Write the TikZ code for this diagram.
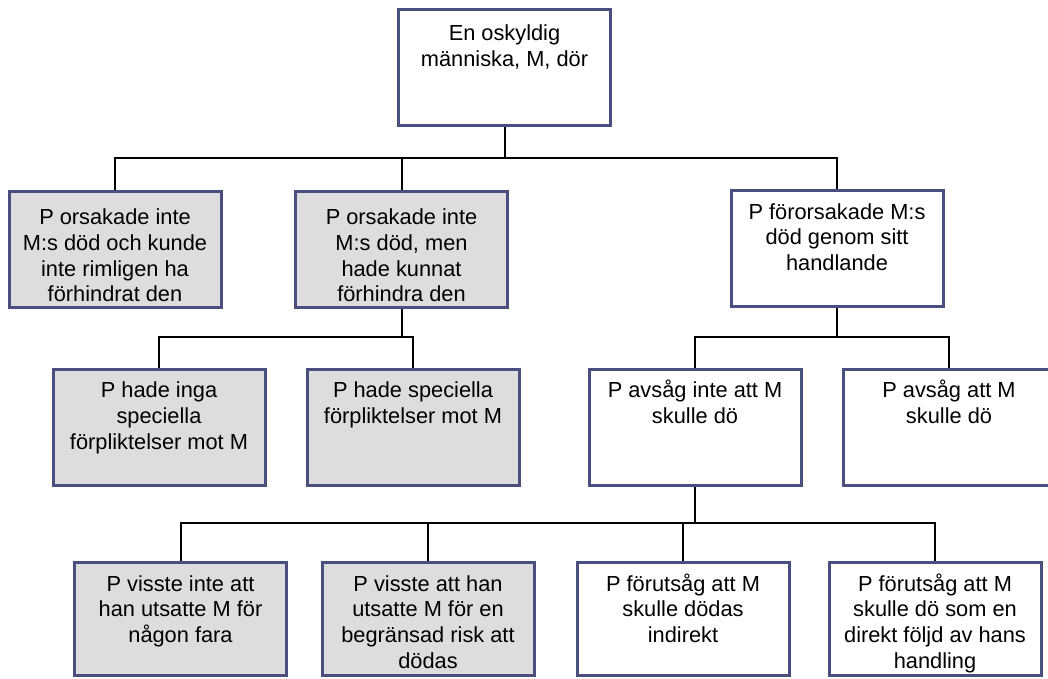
\documentclass[tikz,border=0pt]{standalone}
\usepackage{fontspec}
\setmainfont{Liberation Sans}
\definecolor{bord}{RGB}{74,79,128}
\definecolor{grayfill}{RGB}{221,221,221}
\newcommand\bxtext[3]{\parbox[c][#1][t]{200pt}{\centering\fontsize{21.8pt}{25.8pt}\selectfont\rule{0pt}{#2}#3}}
\tikzset{
  box/.style={draw=bord, line width=3pt, inner sep=0pt, minimum width=212pt, minimum height=116pt},
  rowthree/.style={minimum height=113pt},
  gbox/.style={box, fill=grayfill},
  wbox/.style={box, fill=white},
  conn/.style={draw=black, line width=2pt}
}
\begin{document}
\begin{tikzpicture}[x=1pt,y=-1pt]
\useasboundingbox (0,0) rectangle (1048,679);
\clip (0,0) rectangle (1048,679);
% level 0
\node[wbox] (B0) at (504.5,68) {\bxtext{116pt}{30.5pt}{En oskyldig\\människa, M, dör}};
% level 1
\node[gbox] (B1) at (115,249) {\bxtext{116pt}{33.5pt}{P orsakade inte\\M:s död och kunde\\inte rimligen ha\\förhindrat den}};
\node[gbox] (B2) at (401.5,249) {\bxtext{116pt}{33.5pt}{P orsakade inte\\M:s död, men\\hade kunnat\\förhindra den}};
\node[wbox] (B3) at (837,248.5) {\bxtext{116pt}{28.5pt}{P förorsakade M:s\\död genom sitt\\handlande}};
% level 2
\node[gbox] (B4) at (159,427.5) {\bxtext{116pt}{28pt}{P hade inga\\speciella\\förpliktelser mot M}};
\node[gbox] (B5) at (413,427.5) {\bxtext{116pt}{28pt}{P hade speciella\\förpliktelser mot M}};
\node[wbox] (B6) at (695,427.5) {\bxtext{116pt}{28pt}{P avsåg inte att M\\skulle dö}};
\node[wbox] (B7) at (949,427.5) {\bxtext{116pt}{28pt}{P avsåg att M\\skulle dö}};
% level 3
\node[gbox,rowthree] (B8) at (180.5,619) {\bxtext{113pt}{28.5pt}{P visste inte att\\han utsatte M för\\någon fara}};
\node[gbox,rowthree] (B9) at (428,619) {\bxtext{113pt}{28.5pt}{P visste att han\\utsatte M för en\\begränsad risk att\\dödas}};
\node[wbox,rowthree] (B10) at (683,619) {\bxtext{113pt}{28.5pt}{P förutsåg att M\\skulle dödas\\indirekt}};
\node[wbox,rowthree] (B11) at (935,619) {\bxtext{113pt}{28.5pt}{P förutsåg att M\\skulle dö som en\\direkt följd av hans\\handling}};
% junctions
\coordinate (J0) at (504.5,158);
\coordinate (J1) at (401.5,337);
\coordinate (J2) at (837,337);
\coordinate (J3) at (695,523);
% connectors
\draw[conn] (B0.south) -- (J0);
\draw[conn] (J0) -| (B1.north);
\draw[conn] (J0) -| (B2.north);
\draw[conn] (J0) -| (B3.north);
\draw[conn] (B2.south) -- (J1);
\draw[conn] (J1) -| (B4.north);
\draw[conn] (J1) -| (B5.north);
\draw[conn] (B3.south) -- (J2);
\draw[conn] (J2) -| (B6.north);
\draw[conn] (J2) -| (B7.north);
\draw[conn] (B6.south) -- (J3);
\draw[conn] (J3) -| (B8.north);
\draw[conn] (J3) -| (B9.north);
\draw[conn] (J3) -| (B10.north);
\draw[conn] (J3) -| (B11.north);
\end{tikzpicture}
\end{document}
